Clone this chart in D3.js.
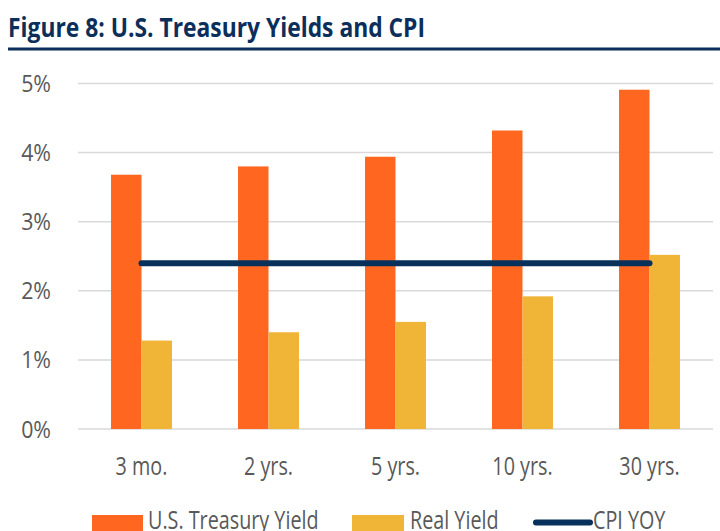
<!DOCTYPE html>
<html>
<head>
<meta charset="utf-8">
<script src="https://cdn.jsdelivr.net/npm/d3@7"></script>
<style>
  body { margin: 0; background: #fff; overflow: hidden; }
  svg { display: block; font-family: 'Open Sans', 'Noto Sans', sans-serif; }
</style>
</head>
<body>
<div id="chart"></div>
<script>
const categories = ['3 mo.', '2 yrs.', '5 yrs.', '10 yrs.', '30 yrs.'];
const treasuryYield = [3.68, 3.80, 3.94, 4.32, 4.91];
const realYield = [1.28, 1.40, 1.55, 1.92, 2.52];
const cpiYoy = [2.40, 2.40, 2.40, 2.40, 2.40];
const yTicks = [0, 1, 2, 3, 4, 5];

const W = 720, H = 531;
const plot = { left: 78, right: 713, top: 83.5, bottom: 429 };
const colors = { treasury: '#ff6720', real: '#f0b437', cpi: '#07315b', text: '#595959', grid: '#d9d9d9', title: '#0b2f5a' };

const svg = d3.select('#chart').append('svg').attr('width', W).attr('height', H);

// No condensed font installed, so squeeze glyphs horizontally
const condense = (sel, k) => sel.each(function () {
  const w = this.getComputedTextLength();
  d3.select(this).attr('textLength', w * k).attr('lengthAdjust', 'spacingAndGlyphs');
});

// Title and rule under it
svg.append('text')
  .attr('x', 8).attr('y', 37)
  .attr('font-weight', 'bold').attr('font-size', 26)
  .attr('fill', colors.title)
  .text('Figure 8: U.S. Treasury Yields and CPI')
  .call(sel => sel.attr('textLength', 417).attr('lengthAdjust', 'spacingAndGlyphs'));
svg.append('line')
  .attr('x1', 8).attr('x2', 720).attr('y1', 49).attr('y2', 49)
  .attr('stroke', colors.title).attr('stroke-width', 3);

const x = d3.scaleBand().domain(categories).range([plot.left, plot.right])
  .paddingInner(0.52).paddingOuter(0.26);
const xSub = d3.scaleBand().domain(['treasury', 'real']).range([0, x.bandwidth()]);
const y = d3.scaleLinear().domain([0, 5]).range([plot.bottom, plot.top]);

// Gridlines
svg.append('g').selectAll('line').data(yTicks).join('line')
  .attr('x1', plot.left).attr('x2', plot.right)
  .attr('y1', d => y(d)).attr('y2', d => y(d))
  .attr('stroke', colors.grid).attr('stroke-width', 1.5);

// Y labels
svg.append('g').selectAll('text').data(yTicks).join('text')
  .attr('x', 51).attr('y', d => y(d) + 8.5)
  .attr('text-anchor', 'end').attr('font-size', 24).attr('fill', colors.text)
  .text(d => d + '%')
  .call(condense, 0.89);

// Bars
const groups = svg.append('g').selectAll('g').data(categories).join('g')
  .attr('transform', d => `translate(${x(d)},0)`);
groups.append('rect')
  .attr('x', xSub('treasury')).attr('width', xSub.bandwidth())
  .attr('y', (d, i) => y(treasuryYield[i])).attr('height', (d, i) => y(0) - y(treasuryYield[i]))
  .attr('fill', colors.treasury);
groups.append('rect')
  .attr('x', xSub('real')).attr('width', xSub.bandwidth())
  .attr('y', (d, i) => y(realYield[i])).attr('height', (d, i) => y(0) - y(realYield[i]))
  .attr('fill', colors.real);

// CPI line
const line = d3.line()
  .x((d, i) => x(categories[i]) + x.bandwidth() / 2)
  .y(d => y(d));
svg.append('path').datum(cpiYoy)
  .attr('d', line).attr('fill', 'none')
  .attr('stroke', colors.cpi).attr('stroke-width', 6).attr('stroke-linecap', 'round');

// X labels
svg.append('g').selectAll('text').data(categories).join('text')
  .attr('x', d => x(d) + x.bandwidth() / 2).attr('y', 475)
  .attr('text-anchor', 'middle').attr('font-size', 25).attr('fill', colors.text)
  .text(d => d)
  .call(condense, 0.79);

// Legend (bottom is cut by the frame, like the reference)
const legend = svg.append('g');
legend.append('rect').attr('x', 92).attr('y', 515).attr('width', 51).attr('height', 16).attr('fill', colors.treasury);
legend.append('rect').attr('x', 352).attr('y', 515).attr('width', 52).attr('height', 16).attr('fill', colors.real);
legend.append('line').attr('x1', 536).attr('x2', 590).attr('y1', 522.5).attr('y2', 522.5)
  .attr('stroke', colors.cpi).attr('stroke-width', 6).attr('stroke-linecap', 'round');
legend.selectAll('text')
  .data([['U.S. Treasury Yield', 148], ['Real Yield', 410], ['CPI YOY', 593]])
  .join('text')
  .attr('x', d => d[1]).attr('y', 529)
  .attr('font-size', 25).attr('fill', colors.text)
  .text(d => d[0])
  .call(condense, 0.79);
</script>
</body>
</html>
